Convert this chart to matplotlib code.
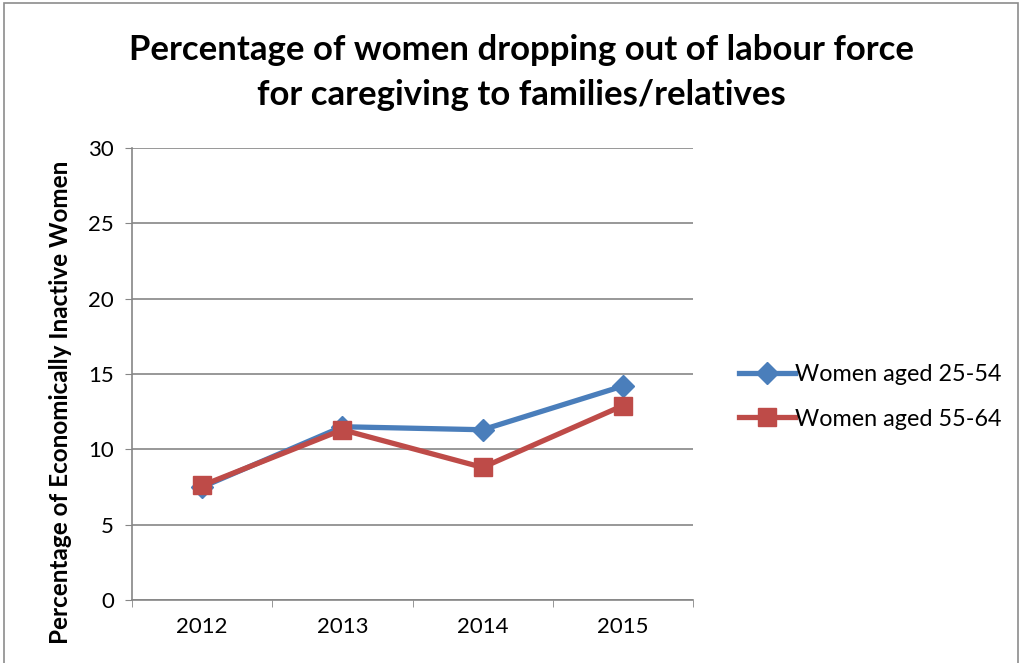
import matplotlib.pyplot as plt
from matplotlib.patches import Rectangle
import numpy as np

years = ['2012', '2013', '2014', '2015']
aged_25_54 = [7.5, 11.5, 11.3, 14.2]
aged_55_64 = [7.6, 11.3, 8.8, 12.9]

plt.rcParams['font.family'] = ['Lato', 'DejaVu Sans']

fig = plt.figure(figsize=(10.21, 6.63), dpi=100)
ax = fig.add_axes([132/1021, 63/663, 561/1021, 452/663])

x = np.arange(len(years))
ax.plot(x, aged_25_54, color='#4A7EBB', lw=3.8, marker='D', markersize=11,
        label='Women aged 25-54', zorder=3)
ax.plot(x, aged_55_64, color='#BE4B48', lw=3.8, marker='s', markersize=13,
        label='Women aged 55-64', zorder=4)

ax.set_xlim(-0.5, 3.5)
ax.set_ylim(0, 30)
ax.set_yticks(np.arange(0, 31, 5))
ax.set_xticks(x)
ax.set_xticklabels(years)
ax.set_xticks(np.arange(-0.5, 4, 1), minor=True)
ax.tick_params(axis='x', which='major', length=0, labelsize=16, pad=12)
ax.tick_params(axis='x', which='minor', length=5, color='#868686')
ax.tick_params(axis='y', length=5, color='#868686', labelsize=16, pad=8)
ax.grid(axis='y', color='#868686', lw=1.2)
for s in ['top', 'right']:
    ax.spines[s].set_visible(False)
for s in ['left', 'bottom']:
    ax.spines[s].set_color('#868686')
    ax.spines[s].set_linewidth(1.2)

fig.text(60/1021, 1 - 402/663, 'Percentage of Economically Inactive Women',
         rotation=90, ha='center', va='center', fontsize=17.5, fontweight='bold')
fig.suptitle('Percentage of women dropping out of labour force\nfor caregiving to families/relatives',
             x=521/1021, y=1 - 34/663, va='top', fontsize=25, fontweight='bold',
             linespacing=1.5)

fig.legend(loc='center left', bbox_to_anchor=(718/1021, 1 - 397/663),
           frameon=False, fontsize=16.8, handlelength=2.4, labelspacing=1.0,
           handletextpad=0.0)

fig.add_artist(Rectangle((4/1021, -0.05), 1014/1021, 1.05 - 3/663,
                         transform=fig.transFigure, fill=False,
                         edgecolor='#8c8c8c', lw=1.2))

plt.savefig('out.png', dpi=100)
